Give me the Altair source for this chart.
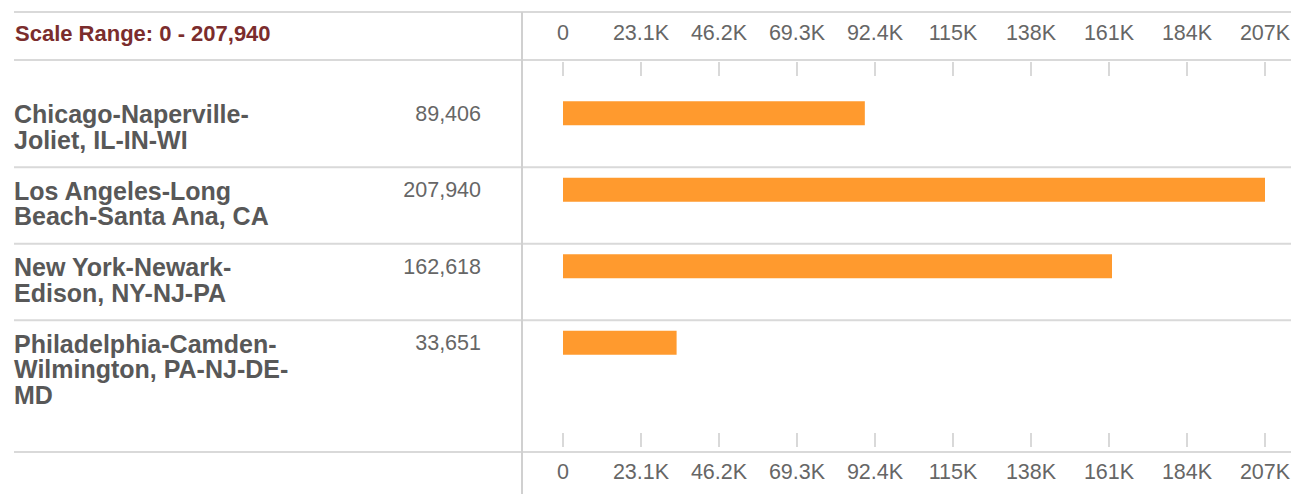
import altair as alt
import pandas as pd

# ---- data ----
categories = [
    "Chicago-Naperville-Joliet, IL-IN-WI",
    "Los Angeles-Long Beach-Santa Ana, CA",
    "New York-Newark-Edison, NY-NJ-PA",
    "Philadelphia-Camden-Wilmington, PA-NJ-DE-MD",
]
label_text = [
    "Chicago-Naperville-\nJoliet, IL-IN-WI",
    "Los Angeles-Long\nBeach-Santa Ana, CA",
    "New York-Newark-\nEdison, NY-NJ-PA",
    "Philadelphia-Camden-\nWilmington, PA-NJ-DE-\nMD",
]
values = [89406, 207940, 162618, 33651]
scale_min = 0
scale_max = 207940
tick_values = [0, 23104, 46209, 69313, 92418, 115522, 138627, 161731, 184836, 207940]
tick_labels = ["0", "23.1K", "46.2K", "69.3K", "92.4K", "115K", "138K", "161K", "184K", "207K"]
header_text = "Scale Range: 0 - 207,940"

main = pd.DataFrame({"cat": categories, "label": label_text, "value": values})
seps = pd.DataFrame({"cat": categories[1:]})
ticks = pd.DataFrame({"tv": tick_values, "tl": tick_labels})
one = pd.DataFrame({"header": [header_text]})

FONT = "Liberation Sans"
LINE = "#d9d9d9"
BAR = "#FF9A2E"

xscale = alt.Scale(domain=[scale_min, scale_max], range=[563, 1265], nice=False, zero=True)
yscale = alt.Scale(domain=categories, range=[75, 381], paddingInner=0, paddingOuter=0)

X = alt.X("value:Q", scale=xscale, axis=None)
Y = alt.Y("cat:N", scale=yscale, axis=None, sort=None)
XT = alt.X("tv:Q", scale=xscale, axis=None)

bars = alt.Chart(main).mark_bar(height=24, color=BAR).encode(x=X, y=Y)

labels = alt.Chart(main).mark_text(
    align="left", baseline="top", lineBreak="\n", fontSize=25, fontWeight="bold",
    color="#585858", font=FONT, lineHeight=25.5, yOffset=-10,
).encode(x=alt.value(14), y=Y, text="label:N")

vals = alt.Chart(main).mark_text(
    align="right", baseline="top", fontSize=21.5, color="#666666", font=FONT, yOffset=-9.5,
).encode(x=alt.value(481), y=Y, text=alt.Text("value:Q", format=","))

header = alt.Chart(one).mark_text(
    align="left", baseline="middle", fontSize=22, fontWeight="bold",
    color="#7b2d2d", font=FONT,
).encode(x=alt.value(15), y=alt.value(33.5), text="header:N")

sep_rules = alt.Chart(seps).mark_rule(color=LINE, strokeWidth=2, yOffset=-22.5).encode(
    y=alt.Y("cat:N", scale=yscale, axis=None, sort=None),
    x=alt.value(14), x2=alt.value(1291),
)

hl_top = alt.Chart(one).mark_rule(color=LINE, strokeWidth=2).encode(
    y=alt.value(12), x=alt.value(14), x2=alt.value(1291))
hl_head = alt.Chart(one).mark_rule(color=LINE, strokeWidth=2).encode(
    y=alt.value(60), x=alt.value(14), x2=alt.value(1291))
hl_bot = alt.Chart(one).mark_rule(color=LINE, strokeWidth=2).encode(
    y=alt.value(452), x=alt.value(14), x2=alt.value(1291))
vline = alt.Chart(one).mark_rule(color="#d0d0d0", strokeWidth=2).encode(
    x=alt.value(522), y=alt.value(12), y2=alt.value(494))

tick_top = alt.Chart(ticks).mark_rule(color="#cccccc", strokeWidth=1.5).encode(
    x=XT, y=alt.value(62), y2=alt.value(76))
tick_bot = alt.Chart(ticks).mark_rule(color="#cccccc", strokeWidth=1.5).encode(
    x=XT, y=alt.value(433), y2=alt.value(447))

tl_top = alt.Chart(ticks).mark_text(
    baseline="middle", fontSize=21.5, color="#666666", font=FONT,
).encode(x=XT, y=alt.value(34), text="tl:N")
tl_bot = alt.Chart(ticks).mark_text(
    baseline="middle", fontSize=21.5, color="#666666", font=FONT,
).encode(x=XT, y=alt.value(473), text="tl:N")

chart = alt.layer(
    hl_top, hl_head, hl_bot, sep_rules, vline,
    tick_top, tick_bot, tl_top, tl_bot,
    bars, labels, vals, header,
).properties(
    width=1291, height=494,
    autosize=alt.AutoSizeParams(type="none"),
    padding=0,
    background="white",
).configure_view(stroke=None)

chart.save("out.html", embed_options={"renderer": "svg", "actions": False})
